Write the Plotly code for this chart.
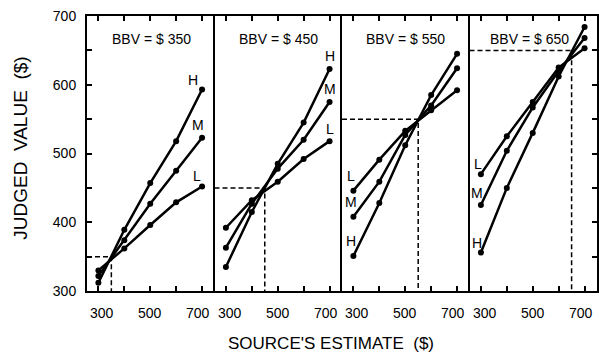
import plotly.graph_objects as go

# ---- data ----
source_estimate = [300, 400, 500, 600, 700]
bbv_values = [350, 450, 550, 650]
panel_titles = ["BBV = $ 350", "BBV = $ 450", "BBV = $ 550", "BBV = $ 650"]
series_names = ["H", "M", "L"]

H_vals = [
    [312, 389, 457, 518, 593],
    [335, 415, 485, 545, 623],
    [351, 428, 512, 585, 645],
    [356, 450, 530, 612, 684],
]
M_vals = [
    [322, 374, 427, 475, 523],
    [363, 427, 478, 520, 575],
    [408, 459, 527, 570, 624],
    [425, 504, 567, 620, 668],
]
L_vals = [
    [330, 362, 396, 429, 452],
    [392, 432, 459, 492, 518],
    [446, 491, 533, 563, 592],
    [470, 525, 575, 625, 653],
]
x_tickvals = [300, 400, 500, 600, 700]
x_ticktext = ["300", "", "500", "", "700"]
y_tickvals = [300, 350, 400, 450, 500, 550, 600, 650, 700]
y_ticktext = ["300", "", "400", "", "500", "", "600", "", "700"]

FONT = "Liberation Sans, Arial, sans-serif"
XR = [256, 748]
YR = [300, 700]

fig = go.Figure()
series_all = {"H": H_vals, "M": M_vals, "L": L_vals}

# label offsets (pixels) per panel, per series
label_shift = [
    {"H": (-9, 10), "M": (-4, 13), "L": (-5, 11)},
    {"H": (0, 13), "M": (0, 13), "L": (0, 12)},
    {"H": (-2, 15), "M": (-2, 15), "L": (-2, 15)},
    {"H": (-4, 10), "M": (-4, 12), "L": (-3, 10)},
]
title_shift = [1, 0, 0, -4]
ticklabel_shift = {"300": 4, "500": 0, "700": -4}

annotations = []
for p in range(4):
    xa = "x" if p == 0 else f"x{p+1}"
    ya = "y" if p == 0 else f"y{p+1}"
    b = bbv_values[p]
    # dashed reference
    fig.add_trace(go.Scatter(
        x=[XR[0], b, b], y=[b, b, YR[0]], mode="lines",
        line=dict(color="black", width=1.5, dash="5px,3px"),
        xaxis=xa, yaxis=ya, showlegend=False, hoverinfo="skip"))
    for s in series_names:
        vals = series_all[s][p]
        fig.add_trace(go.Scatter(
            x=source_estimate, y=vals, mode="lines+markers",
            line=dict(color="black", width=2.5),
            marker=dict(color="black", size=6),
            xaxis=xa, yaxis=ya, showlegend=False, name=s))
        idx = -1 if p < 2 else 0
        dx, dy = label_shift[p][s]
        annotations.append(dict(
            x=source_estimate[idx], y=vals[idx], xref=xa, yref=ya,
            text=s, showarrow=False, xshift=dx, yshift=dy,
            font=dict(family=FONT, size=14, color="#000000")))
    annotations.append(dict(
        x=0.125 + 0.25 * p, y=0.916, xref="paper", yref="paper",
        text=panel_titles[p], showarrow=False, xanchor="center", yanchor="middle",
        xshift=title_shift[p],
        font=dict(family=FONT, size=14, color="#000000")))
    # x tick labels (as annotations so they can be nudged like the original lettering)
    for tv, tt in zip(x_tickvals, x_ticktext):
        if tt:
            annotations.append(dict(
                x=tv, y=YR[0], xref=xa, yref=ya, text=tt, showarrow=False,
                xanchor="center", yanchor="middle", yshift=-22,
                xshift=ticklabel_shift[tt],
                font=dict(family=FONT, size=14, color="#000000")))

annotations.append(dict(
    x=0.478, y=-0.192, xref="paper", yref="paper",
    text="SOURCE'S ESTIMATE \u00a0($)",
    showarrow=False, xanchor="center", yanchor="middle",
    font=dict(family=FONT, size=17, color="#000000")))
annotations.append(dict(
    x=-0.131, y=0.518, xref="paper", yref="paper",
    text="JUDGED \u00a0VALUE \u00a0($)",
    showarrow=False, xanchor="center", yanchor="middle", textangle=-90,
    font=dict(family=FONT, size=19, color="#000000")))

layout = dict(
    width=599, height=359,
    margin=dict(l=87, r=2, t=16, b=68),
    paper_bgcolor="white", plot_bgcolor="white",
    annotations=annotations,
    font=dict(family=FONT, size=14, color="black"),
)
for p in range(4):
    xk = "xaxis" if p == 0 else f"xaxis{p+1}"
    yk = "yaxis" if p == 0 else f"yaxis{p+1}"
    ya = "y" if p == 0 else f"y{p+1}"
    xa = "x" if p == 0 else f"x{p+1}"
    layout[xk] = dict(
        domain=[0.25 * p, 0.25 * (p + 1)], range=XR, anchor=ya,
        showgrid=False, zeroline=False, showline=True, mirror="ticks",
        linecolor="black", linewidth=2, ticks="inside", ticklen=5,
        tickwidth=1.5, tickcolor="black", tickvals=x_tickvals,
        showticklabels=False)
    ydict = dict(
        domain=[0, 1], range=YR, anchor=xa,
        showgrid=False, zeroline=False, showline=True, mirror=False,
        linecolor="black", linewidth=2, tickvals=y_tickvals,
        ticktext=y_ticktext, tickcolor="black", tickwidth=1.5, ticklen=5,
        tickfont=dict(family=FONT, size=14, color="black"))
    if p == 0:
        ydict.update(ticks="inside", showticklabels=True, ticklabelstandoff=6)
    elif p == 3:
        ydict.update(ticks="inside", side="right", showticklabels=False, mirror=True)
    else:
        ydict.update(ticks="", showticklabels=False)
    if p > 0:
        ydict["matches"] = "y"
    layout[yk] = ydict

fig.update_layout(**layout)
fig.write_html("out.html", config={"displayModeBar": False},
               post_script="document.body.style.margin='0';document.body.style.padding='0';")
